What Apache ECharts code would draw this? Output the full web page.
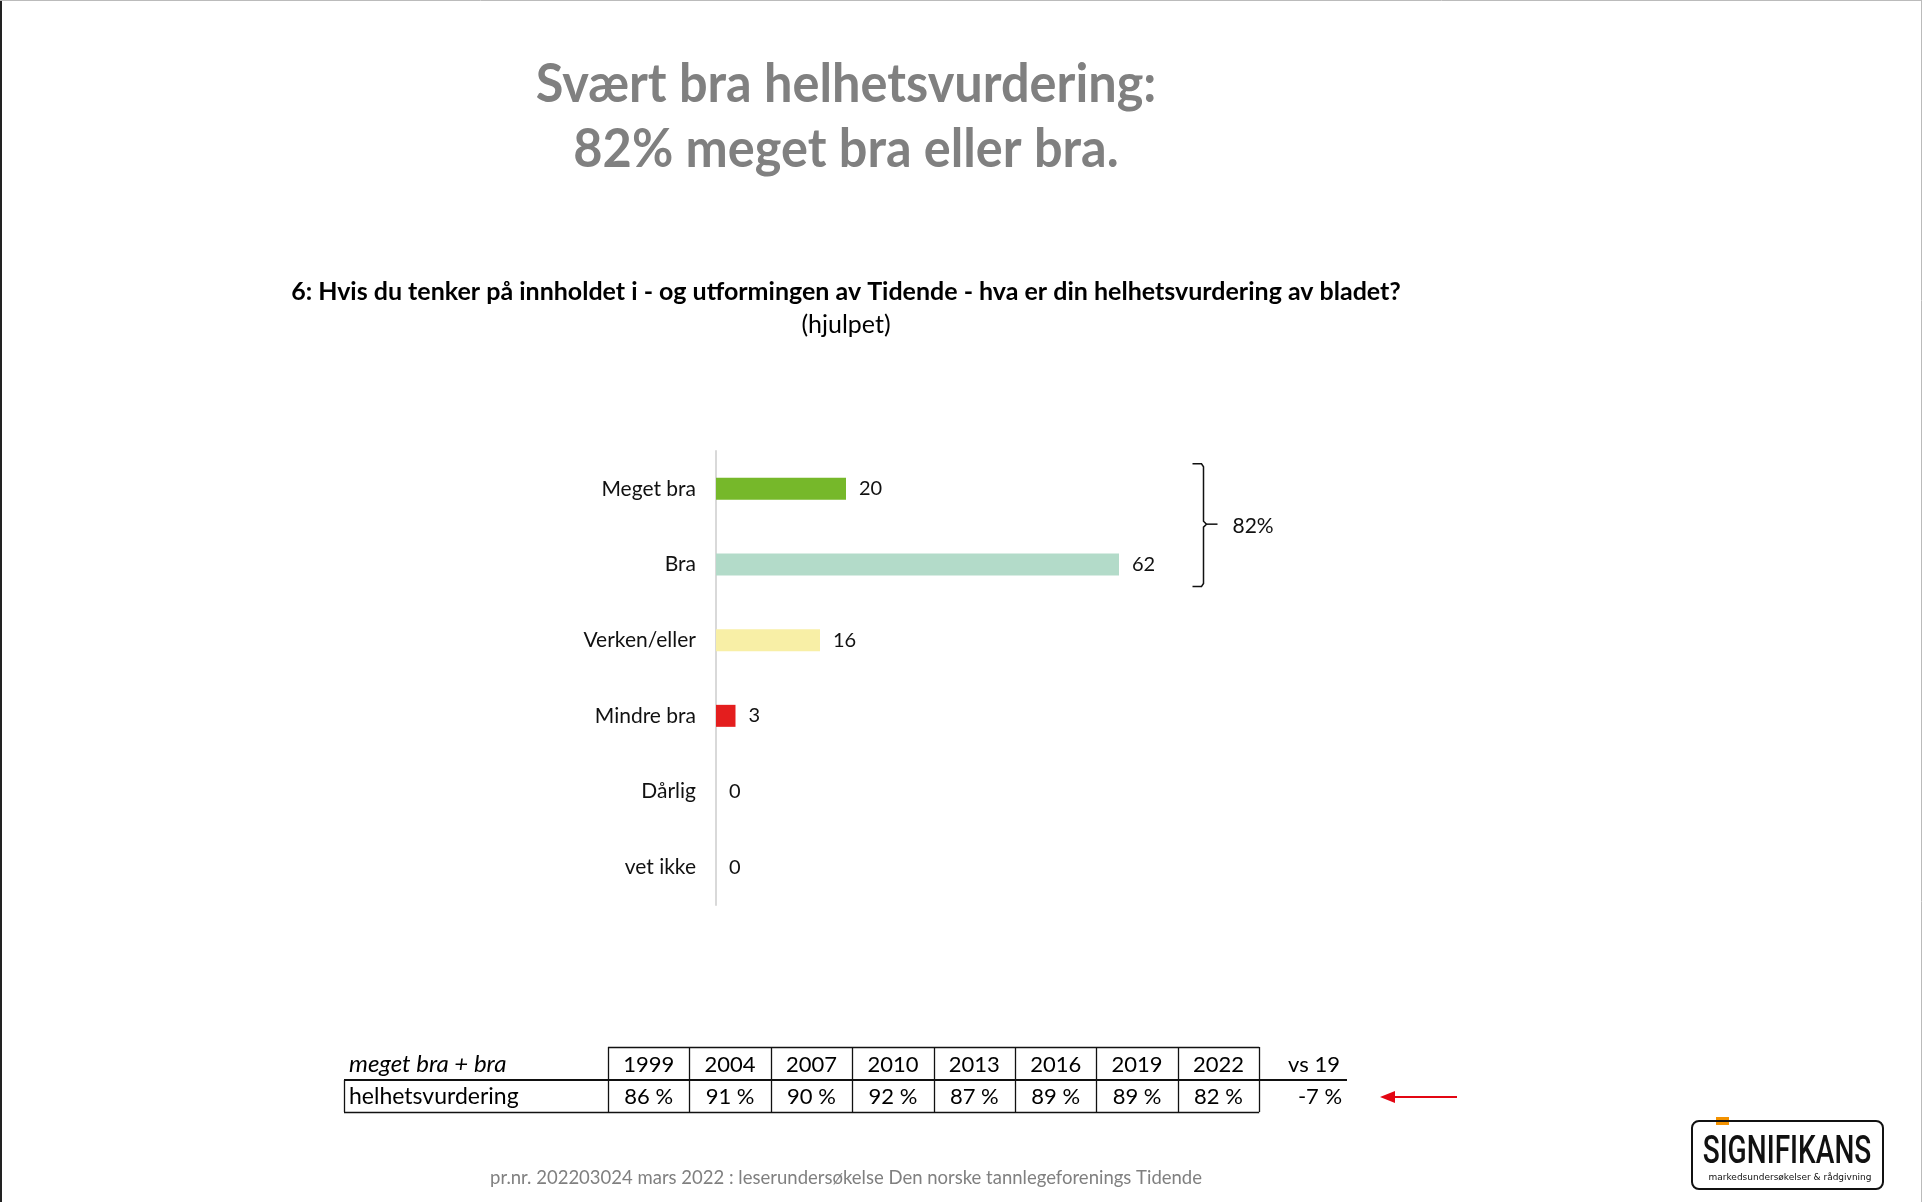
<!DOCTYPE html>
<html>
<head>
<meta charset="utf-8">
<script src="https://cdn.jsdelivr.net/npm/echarts@6/dist/echarts.min.js"></script>
<style>
html,body{margin:0;padding:0;background:#fff;}
#c{width:1922px;height:1202px;}
</style>
</head>
<body>
<div id="c"></div>
<script>
// ---- data ----
const titleLines = ['Svært bra helhetsvurdering:', '82% meget bra eller bra.'];
const questionText = '6: Hvis du tenker på innholdet i - og utformingen av Tidende - hva er din helhetsvurdering av bladet?';
const questionSub = '(hjulpet)';
const categories = ['Meget bra', 'Bra', 'Verken/eller', 'Mindre bra', 'Dårlig', 'vet ikke'];
const values = [20, 62, 16, 3, 0, 0];
const barColors = ['#76b82a', '#b3dbc9', '#f8efa6', '#e41e1e', '#999999', '#cccccc'];
const bracketLabel = '82%';
const tableHeaderLabel = 'meget bra + bra';
const tableRowLabel = 'helhetsvurdering';
const years = ['1999', '2004', '2007', '2010', '2013', '2016', '2019', '2022'];
const yearValues = ['86 %', '91 %', '90 %', '92 %', '87 %', '89 %', '89 %', '82 %'];
const changeHeader = 'vs 19';
const changeValue = '-7 %';
const footerText = 'pr.nr. 202203024 mars 2022 : leserundersøkelse Den norske tannlegeforenings Tidende';
const logoText = 'SIGNIFIKANS';
const logoSub = 'markedsundersøkelser & rådgivning';

const FONT = 'Lato, "Open Sans", sans-serif';
const chart = echarts.init(document.getElementById('c'), null, {renderer: 'canvas'});

chart.setOption({
  backgroundColor: '#ffffff',
  animation: false,
  textStyle: {fontFamily: FONT},
  grid: {left: 716, top: 451, width: 650, height: 454, containLabel: false},
  xAxis: {type: 'value', min: 0, max: 100, show: false},
  yAxis: {
    type: 'category', data: categories, inverse: true,
    axisLine: {show: true, lineStyle: {color: '#d9d9d9', width: 2}},
    axisTick: {show: false},
    axisLabel: {margin: 20, fontSize: 21, color: '#111', fontFamily: FONT}
  },
  series: [{
    type: 'bar', barWidth: 22,
    data: values.map((v, i) => ({value: v, itemStyle: {color: barColors[i]}})),
    label: {show: true, position: 'right', distance: 13, fontSize: 20, color: '#111', fontFamily: FONT}
  }]
});

// ---- annotations / layout ----
const g = [];
// page border
g.push({type: 'rect', shape: {x: 0, y: 0, width: 2, height: 1202}, style: {fill: '#222'}, silent: true});
g.push({type: 'line', shape: {x1: 0, y1: 0.5, x2: 1922, y2: 0.5}, style: {stroke: '#bbb', lineWidth: 1}, silent: true});
g.push({type: 'line', shape: {x1: 1921.5, y1: 0, x2: 1921.5, y2: 1202}, style: {stroke: '#bbb', lineWidth: 1}, silent: true});

// title
titleLines.forEach((t, i) => {
  g.push({type: 'text', x: 846, y: i === 0 ? 85 : 150, scaleX: 0.935, silent: true,
    style: {text: t, x: 0, y: 0, align: 'center', verticalAlign: 'middle',
      font: 'bold 54px ' + FONT, fill: '#808080'}});
});
// question
g.push({type: 'text', x: 846, y: 292, silent: true,
  style: {text: questionText, align: 'center', verticalAlign: 'middle', font: 'bold 25px ' + FONT, fill: '#000'}});
g.push({type: 'text', x: 846, y: 325, silent: true,
  style: {text: questionSub, align: 'center', verticalAlign: 'middle', font: '25px ' + FONT, fill: '#000'}});

// bracket (positioned via axis scales)
const pTop = chart.convertToPixel({gridIndex: 0}, [75, categories[0]]);
const pBot = chart.convertToPixel({gridIndex: 0}, [75, categories[1]]);
const bx = pTop[0];
const by1 = pTop[1] - 25, by2 = pBot[1] + 22, bym = (by1 + by2) / 2 - 1;
g.push({type: 'polyline', silent: true, shape: {points: [[bx - 11, by1], [bx - 2, by1], [bx, by1 + 3], [bx, bym - 3], [bx + 3, bym], [bx, bym + 3], [bx, by2 - 3], [bx - 2, by2], [bx - 11, by2]]},
  style: {stroke: '#111', lineWidth: 1.5, fill: null}});
g.push({type: 'line', silent: true, shape: {x1: bx + 3, y1: bym, x2: bx + 14, y2: bym}, style: {stroke: '#111', lineWidth: 1.5}});
g.push({type: 'text', x: bx + 29, y: bym + 2, silent: true,
  style: {text: bracketLabel, align: 'left', verticalAlign: 'middle', font: '21px ' + FONT, fill: '#111'}});

// table
const tx0 = 608, colW = 81.4, yTop = 1047, yMid = 1080, yBot = 1112, leftX = 344, vsX = 1314;
const numFont = '22px ' + FONT;
g.push({type: 'text', x: 349, y: (yTop + yMid) / 2 + 1, silent: true,
  style: {text: tableHeaderLabel, align: 'left', verticalAlign: 'middle', font: 'italic 24px ' + FONT, fill: '#000'}});
g.push({type: 'text', x: 349, y: (yMid + yBot) / 2 + 1, silent: true,
  style: {text: tableRowLabel, align: 'left', verticalAlign: 'middle', font: '23px ' + FONT, fill: '#000'}});
years.forEach((yv, i) => {
  const cx = tx0 + colW * (i + 0.5);
  g.push({type: 'text', x: cx, y: (yTop + yMid) / 2 + 1, silent: true,
    style: {text: yv, align: 'center', verticalAlign: 'middle', font: numFont, fill: '#000'}});
  g.push({type: 'text', x: cx, y: (yMid + yBot) / 2 + 1, silent: true,
    style: {text: yearValues[i], align: 'center', verticalAlign: 'middle', font: numFont, fill: '#000'}});
});
const tableEnd = tx0 + colW * years.length;
for (let i = 0; i <= years.length; i++) {
  const x = Math.round(tx0 + colW * i) + 0.5;
  g.push({type: 'line', silent: true, shape: {x1: x, y1: yTop, x2: x, y2: yBot}, style: {stroke: '#111', lineWidth: 1.3}});
}
g.push({type: 'line', silent: true, shape: {x1: tx0, y1: yTop + 0.5, x2: tableEnd, y2: yTop + 0.5}, style: {stroke: '#111', lineWidth: 1.3}});
g.push({type: 'line', silent: true, shape: {x1: leftX, y1: yMid, x2: 1347, y2: yMid}, style: {stroke: '#111', lineWidth: 2.2}});
g.push({type: 'line', silent: true, shape: {x1: leftX, y1: yBot + 0.5, x2: tableEnd, y2: yBot + 0.5}, style: {stroke: '#111', lineWidth: 1.3}});
g.push({type: 'line', silent: true, shape: {x1: leftX + 0.5, y1: yMid, x2: leftX + 0.5, y2: yBot}, style: {stroke: '#111', lineWidth: 1.3}});
g.push({type: 'text', x: vsX, y: (yTop + yMid) / 2 + 1, silent: true,
  style: {text: changeHeader, align: 'center', verticalAlign: 'middle', font: numFont, fill: '#000'}});
g.push({type: 'text', x: vsX + 6, y: (yMid + yBot) / 2 + 1, silent: true,
  style: {text: changeValue, align: 'center', verticalAlign: 'middle', font: numFont, fill: '#000'}});
// red arrow
g.push({type: 'line', silent: true, shape: {x1: 1457, y1: 1097, x2: 1392, y2: 1097}, style: {stroke: '#e30613', lineWidth: 2}});
g.push({type: 'polygon', silent: true, shape: {points: [[1380, 1097], [1395, 1091], [1395, 1103]]}, style: {fill: '#e30613'}});

// footer
g.push({type: 'text', x: 846, y: 1178, silent: true,
  style: {text: footerText, align: 'center', verticalAlign: 'middle', font: '18.5px ' + FONT, fill: '#808080'}});

// logo
g.push({type: 'rect', silent: true, shape: {x: 1692, y: 1121, width: 191, height: 68, r: 7}, style: {fill: '#fff', stroke: '#111', lineWidth: 2}});
g.push({type: 'rect', silent: true, shape: {x: 1716, y: 1117, width: 13, height: 3}, style: {fill: '#f39200'}});
g.push({type: 'rect', silent: true, shape: {x: 1716, y: 1122, width: 13, height: 3}, style: {fill: '#f39200'}});
g.push({type: 'text', x: 1787, y: 1153, scaleX: 0.72, silent: true,
  style: {text: logoText, x: 0, y: 0, align: 'center', verticalAlign: 'middle', font: '500 39px Roboto, sans-serif', fill: '#111'}});
g.push({type: 'text', x: 1790, y: 1178, silent: true,
  style: {text: logoSub, align: 'center', verticalAlign: 'middle', font: '9px "DejaVu Sans", sans-serif', fill: '#111'}});

chart.setOption({graphic: g});
</script>
</body>
</html>
